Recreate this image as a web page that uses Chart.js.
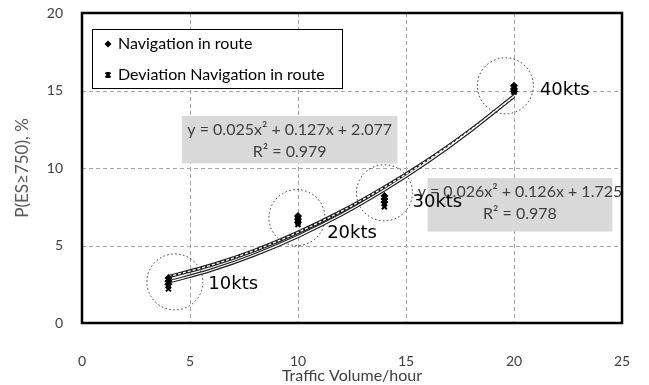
<!DOCTYPE html>
<html>
<head>
<meta charset="utf-8">
<script src="https://cdn.jsdelivr.net/npm/chart.js@4.4.1/dist/chart.umd.min.js"></script>
<style>
    html, body { margin: 0; padding: 0; background: #fff; }
    #wrap { width: 649px; height: 385px; }
</style>
</head>
<body>
<div id="wrap"><canvas id="chart"></canvas></div>
<script>
// measured points (several runs per traffic volume)
const navX = [4, 4, 4, 10, 10, 10, 14, 14, 14, 20, 20, 20];
const navY = [2.9, 2.7, 2.5, 6.9, 6.7, 6.5, 8.2, 8.0, 7.8, 15.3, 15.1, 14.95];
const devX = [4, 4, 4, 10, 10, 10, 14, 14, 14, 20, 20, 20];
const devY = [2.6, 2.4, 2.2, 6.7, 6.5, 6.35, 7.9, 7.7, 7.5, 15.2, 15.0, 14.9];

// trend curves
const trendX = [4, 6, 8, 10, 12, 14, 16, 18, 20];
const trendNav = [2.99, 3.74, 4.69, 5.85, 7.2, 8.76, 10.5, 12.46, 14.62];
const trendDev = [2.65, 3.42, 4.4, 5.59, 6.98, 8.59, 10.4, 12.42, 14.65];

const xTicks = [0, 5, 10, 15, 20, 25];
const yTicks = [0, 5, 10, 15, 20];

const speedLabels = ['10kts', '20kts', '30kts', '40kts'];
const speedX = [5.85, 11.35, 15.3, 21.2];
const speedY = [2.5, 5.8, 7.8, 15.0];
const circleX = [4.3, 9.95, 14.0, 19.6];
const circleY = [2.65, 6.8, 8.4, 15.3];

const eqNav = ['y = 0.025x\u00B2 + 0.127x + 2.077', 'R\u00B2 = 0.979'];
const eqDev = ['y = 0.026x\u00B2 + 0.126x + 1.725', 'R\u00B2 = 0.978'];
const seriesNames = ['Navigation in route', 'Deviation Navigation in route'];

const FONT = 'Lato, "Open Sans", sans-serif';

const toPts = (xs, ys) => xs.map((x, i) => ({ x: x, y: ys[i] }));

const overlay = {
    id: 'overlay',
    beforeDatasetsDraw(chart) {
        const { ctx, chartArea: a, scales: { x, y } } = chart;
        ctx.save();
        // dashed grid
        ctx.strokeStyle = '#a6a6a6';
        ctx.lineWidth = 1;
        ctx.setLineDash([4, 3]);
        ctx.beginPath();
        xTicks.slice(1, -1).forEach(v => {
            const px = Math.round(x.getPixelForValue(v)) + 0.5;
            ctx.moveTo(px, a.top); ctx.lineTo(px, a.bottom);
        });
        yTicks.slice(1, -1).forEach(v => {
            const py = Math.round(y.getPixelForValue(v)) + 0.5;
            ctx.moveTo(a.left, py); ctx.lineTo(a.right, py);
        });
        ctx.stroke();

        // dotted rings around each cluster
        ctx.strokeStyle = '#333';
        ctx.setLineDash([1.5, 2.5]);
        circleX.forEach((cx, i) => {
            ctx.beginPath();
            ctx.arc(x.getPixelForValue(cx), y.getPixelForValue(circleY[i]), 28, 0, Math.PI * 2);
            ctx.stroke();
        });
        ctx.restore();
    },
    afterDatasetsDraw(chart) {
        const { ctx, chartArea: a, scales: { x, y } } = chart;
        ctx.save();

        // plot frame
        ctx.strokeStyle = '#000';
        ctx.lineWidth = 2.5;
        ctx.strokeRect(a.left, a.top, a.right - a.left, a.bottom - a.top);

        // legend box
        ctx.fillStyle = '#fff';
        ctx.fillRect(92, 29, 250, 59);
        ctx.lineWidth = 1;
        ctx.strokeRect(92.5, 29.5, 250, 59);
        ctx.fillStyle = '#000';
        ctx.font = '16px ' + FONT;
        ctx.textBaseline = 'middle';
        ctx.textAlign = 'left';
        ctx.fillText(seriesNames[0], 118, 44);
        ctx.fillText(seriesNames[1], 118, 75);
        // legend markers
        ctx.beginPath();
        ctx.moveTo(108, 40.5); ctx.lineTo(111.5, 44); ctx.lineTo(108, 47.5); ctx.lineTo(104.5, 44);
        ctx.closePath();
        ctx.fill();
        ctx.strokeStyle = '#000';
        ctx.lineWidth = 2;
        ctx.beginPath();
        ctx.moveTo(105.5, 72.5); ctx.lineTo(110.5, 77.5);
        ctx.moveTo(110.5, 72.5); ctx.lineTo(105.5, 77.5);
        ctx.moveTo(108, 72); ctx.lineTo(108, 78);
        ctx.stroke();

        // trend equation boxes
        const box = (x0, x1, y0, y1, lines) => {
            const l = x.getPixelForValue(x0), r = x.getPixelForValue(x1);
            const t = y.getPixelForValue(y0), b = y.getPixelForValue(y1);
            ctx.fillStyle = '#d9d9d9';
            ctx.fillRect(l, t, r - l, b - t);
            ctx.fillStyle = '#404040';
            ctx.font = '16px ' + FONT;
            ctx.textAlign = 'center';
            const cx = (l + r) / 2;
            ctx.fillText(lines[0], cx, t + 14);
            ctx.fillText(lines[1], cx, t + 36);
        };
        box(4.63, 14.6, 13.35, 10.3, eqNav);
        box(16.0, 24.55, 9.35, 5.9, eqDev);

        // speed labels
        ctx.fillStyle = '#000';
        ctx.font = '18px "DejaVu Sans", sans-serif';
        ctx.textAlign = 'left';
        speedLabels.forEach((s, i) => {
            ctx.fillText(s, x.getPixelForValue(speedX[i]), y.getPixelForValue(speedY[i]));
        });
        ctx.restore();
    }
};

new Chart(document.getElementById('chart'), {
    type: 'scatter',
    data: {
        datasets: [
            {
                label: seriesNames[0],
                data: toPts(navX, navY),
                pointStyle: 'rectRot',
                pointRadius: 3.5,
                backgroundColor: '#000',
                borderColor: '#000',
                order: 0
            },
            {
                label: seriesNames[1],
                data: toPts(devX, devY),
                pointStyle: 'crossRot',
                pointRadius: 3.5,
                borderWidth: 2,
                borderColor: '#000',
                backgroundColor: '#000',
                order: 1
            },
            {
                data: toPts(trendX, trendNav),
                showLine: true, pointRadius: 0,
                borderColor: '#fff', borderWidth: 1.3, borderDash: [3, 2],
                cubicInterpolationMode: 'monotone',
                order: 2
            },
            {
                data: toPts(trendX, trendDev),
                showLine: true, pointRadius: 0,
                borderColor: '#fff', borderWidth: 1.2,
                cubicInterpolationMode: 'monotone',
                order: 2
            },
            {
                data: toPts(trendX, trendNav),
                showLine: true, pointRadius: 0,
                borderColor: '#222', borderWidth: 3.5,
                cubicInterpolationMode: 'monotone',
                order: 3
            },
            {
                data: toPts(trendX, trendDev),
                showLine: true, pointRadius: 0,
                borderColor: '#222', borderWidth: 3.5,
                cubicInterpolationMode: 'monotone',
                order: 3
            }
        ]
    },
    options: {
        responsive: true,
        maintainAspectRatio: false,
        animation: false,
        layout: { padding: { top: 13, right: 27, left: 0, bottom: 0 } },
        plugins: {
            legend: { display: false },
            tooltip: { enabled: false }
        },
        scales: {
            x: {
                type: 'linear',
                min: 0, max: 25,
                afterBuildTicks: (s) => { s.ticks = xTicks.map(v => ({ value: v })); },
                afterFit: (s) => { s.height = 62; s.paddingLeft = 0; s.paddingRight = 0; },
                grid: { display: false, drawTicks: false },
                border: { display: false },
                ticks: { color: '#404040', font: { family: FONT, size: 14 }, padding: 30 },
                title: {
                    display: true,
                    text: 'Traffic Volume/hour',
                    color: '#404040',
                    font: { family: FONT, size: 16 },
                    padding: { top: 0, bottom: 0 }
                }
            },
            y: {
                type: 'linear',
                min: 0, max: 20,
                afterBuildTicks: (s) => { s.ticks = yTicks.map(v => ({ value: v })); },
                afterFit: (s) => { s.width = 82; s.paddingTop = 0; s.paddingBottom = 0; },
                grid: { display: false, drawTicks: false },
                border: { display: false },
                ticks: { color: '#404040', font: { family: FONT, size: 14 }, padding: 19 },
                title: {
                    display: true,
                    text: 'P(ES\u2265750), %',
                    color: '#595959',
                    font: { family: FONT, size: 17 },
                    padding: { top: 12, bottom: 0 }
                }
            }
        }
    },
    plugins: [overlay]
});
</script>
</body>
</html>
